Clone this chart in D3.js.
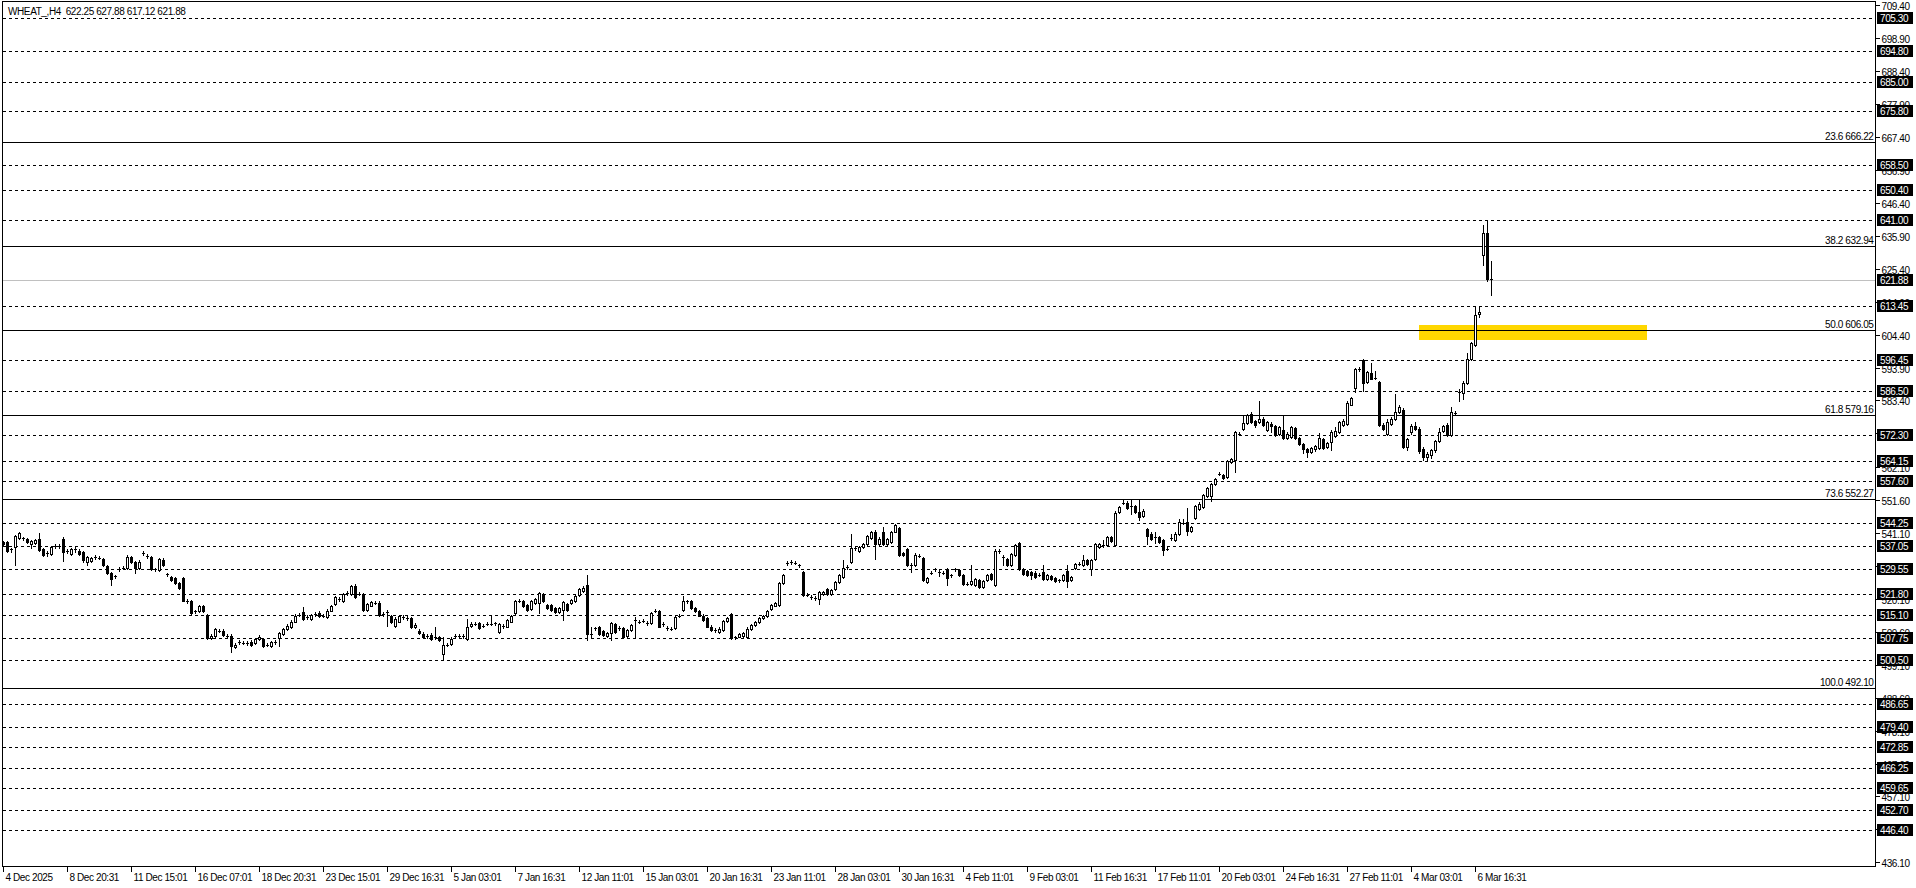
<!DOCTYPE html>
<html>
<head>
<meta charset="utf-8">
<script src="https://cdn.jsdelivr.net/npm/d3@7"></script>
<style>
  body { margin: 0; background: #fff; }
  svg { display: block; font-family: "Liberation Sans", Arial, sans-serif; font-size: 10px; letter-spacing: -0.4px; }
</style>
</head>
<body>
<div id="chart"></div>
<script>
const title = 'WHEAT_,H4  622.25 627.88 617.12 621.88';

// one label every 16 bars, starting at bar 0
const timeLabels = ['4 Dec 2025', '8 Dec 20:31', '11 Dec 15:01', '16 Dec 07:01', '18 Dec 20:31', '23 Dec 15:01',
  '29 Dec 16:31', '5 Jan 03:01', '7 Jan 16:31', '12 Jan 11:01', '15 Jan 03:01', '20 Jan 16:31', '23 Jan 11:01',
  '28 Jan 03:01', '30 Jan 16:31', '4 Feb 11:01', '9 Feb 03:01', '11 Feb 16:31', '17 Feb 11:01', '20 Feb 03:01',
  '24 Feb 16:31', '27 Feb 11:01', '4 Mar 03:01', '6 Mar 16:31'];
const barsPerLabel = 16;

const priceTicks = [709.40, 698.90, 688.40, 677.90, 667.40, 656.90, 646.40, 635.90, 625.40, 614.90, 604.40, 593.90,
  583.40, 572.90, 562.10, 551.60, 541.10, 530.60, 520.10, 509.60, 499.10, 488.60, 478.10, 467.60, 457.10, 446.60, 436.10];

// dashed horizontal levels
const levels = [705.30, 694.80, 685.00, 675.80, 658.50, 650.40, 641.00, 613.45, 596.45, 586.50, 572.30, 564.15,
  557.60, 544.25, 537.05, 529.55, 521.80, 515.10, 507.75, 500.50, 486.65, 479.40, 472.85, 466.25, 459.65, 452.70, 446.40];

// fibonacci retracement
const fibRatios = ['23.6', '38.2', '50.0', '61.8', '73.6', '100.0'];
const fibPrices = [666.22, 632.94, 606.05, 579.16, 552.27, 492.10];

const bidPrice = 621.88;

// yellow zone: bar range and price range
const zoneBars = [353.9, 410.9];
const zonePrices = [602.8, 607.5];

// H4 bars: [open, high, low, close]
const ohlc = [
[538.2,538.6,537.1,537.5],[538.2,538.7,535.0,535.5],[536.1,536.2,535.2,536.0],[536.6,540.5,531.0,540.1],
[539.5,541.4,539.2,541.1],[539.5,540.0,538.8,539.3],[539.1,539.5,537.8,538.2],[537.7,539.0,536.3,538.7],
[537.9,539.2,537.6,538.9],[539.3,541.2,535.5,535.8],[535.9,536.3,533.9,534.2],[534.9,535.4,533.8,534.8],
[534.5,537.0,534.2,536.6],[537.0,537.6,536.4,537.1],[536.9,537.6,536.3,536.8],[539.3,539.8,532.1,535.0],
[535.4,536.1,534.8,535.5],[534.5,536.3,534.1,535.9],[535.8,536.6,535.2,535.9],[535.5,535.9,534.2,534.5],
[535.0,535.3,532.0,532.4],[531.8,533.8,530.8,533.4],[532.1,533.6,531.8,533.2],[533.3,534.0,532.9,533.4],
[533.3,533.8,532.7,533.2],[532.9,533.3,530.7,531.0],[530.5,530.9,528.1,528.4],[528.4,528.8,524.6,526.5],
[527.2,527.8,526.8,527.3],[529.6,530.3,529.1,529.7],[529.9,530.5,529.5,529.9],[529.9,534.0,529.6,533.6],
[533.4,533.8,531.5,531.8],[531.8,532.2,528.4,529.9],[529.9,532.4,529.6,532.0],[534.5,535.3,534.0,534.6],
[533.8,534.4,533.3,533.8],[533.4,533.9,529.2,529.5],[529.5,530.0,529.1,529.5],[529.2,533.3,528.9,532.9],
[532.6,533.0,530.7,531.0],[528.0,528.5,527.5,527.9],[527.0,527.4,525.7,526.0],[526.7,527.0,524.9,525.2],
[525.1,525.5,523.2,523.5],[526.8,527.2,519.3,519.6],[519.4,520.0,518.9,519.4],[519.4,519.8,515.4,515.7],
[516.1,516.7,515.7,516.1],[516.1,518.2,515.8,517.7],[517.7,518.1,515.8,516.1],[515.0,515.4,507.2,507.6],
[507.6,508.8,507.3,508.4],[508.2,510.8,507.9,510.4],[510.0,510.6,509.5,510.0],[510.0,510.4,508.4,508.7],
[508.4,509.0,507.9,508.4],[508.4,508.8,503.3,505.0],[504.7,505.9,504.4,505.5],[506.3,506.9,505.8,506.3],
[506.1,506.7,505.6,506.1],[506.0,506.6,505.5,506.0],[506.5,506.9,505.2,505.5],[506.1,507.6,505.8,507.2],
[507.2,508.5,506.9,507.9],[507.2,507.6,504.7,505.0],[505.5,506.0,505.0,505.5],[505.2,506.7,504.9,506.3],
[506.3,506.9,505.8,506.3],[507.6,509.7,505.2,509.3],[509.0,510.8,508.7,510.4],[510.4,512.0,510.1,511.6],
[511.1,513.3,510.8,512.9],[512.9,515.2,512.6,514.8],[515.0,515.6,514.5,515.0],[515.9,517.5,513.5,513.8],
[514.3,514.9,513.8,514.3],[513.8,515.4,513.5,515.0],[515.2,515.8,514.7,515.2],[515.7,516.1,514.3,514.6],
[514.8,515.4,514.3,514.8],[514.3,516.8,514.0,516.4],[516.4,518.1,516.1,517.7],[518.5,521.1,518.2,520.7],
[520.1,520.7,519.6,520.1],[519.3,522.1,519.0,521.7],[522.0,522.6,521.5,522.0],[521.7,524.6,521.4,524.2],
[524.2,525.0,520.4,520.7],[521.7,522.3,521.2,521.7],[521.7,522.1,516.4,516.7],[516.7,518.9,516.4,518.5],
[518.0,519.5,517.7,519.1],[518.9,519.5,518.4,518.9],[518.9,519.3,514.7,515.0],[515.3,515.9,514.8,515.3],
[515.9,516.6,511.6,515.9],[514.6,515.0,512.4,512.7],[511.6,514.2,511.3,513.8],[512.9,515.0,512.6,514.6],
[514.3,514.9,513.8,514.3],[514.0,514.6,513.5,514.0],[514.0,514.4,510.8,511.1],[511.1,512.3,510.8,511.9],
[510.0,510.4,508.9,509.2],[509.0,509.4,507.6,507.9],[508.2,508.8,507.7,508.2],[508.7,509.1,507.1,507.4],
[507.9,511.1,507.4,507.9],[507.9,508.3,506.8,507.1],[502.6,507.9,501.0,505.5],[505.5,506.1,505.0,505.5],
[505.8,507.8,505.5,507.4],[508.4,509.0,507.9,508.4],[508.2,508.8,507.7,508.2],[508.2,508.8,507.7,508.2],
[507.4,513.8,507.1,511.1],[511.4,512.6,511.1,512.2],[512.2,512.8,511.7,512.2],[512.4,512.8,510.6,510.9],
[511.6,512.2,511.1,511.6],[512.2,512.8,511.7,512.2],[512.2,514.8,511.7,512.2],[512.3,512.9,511.8,512.4],
[509.5,512.5,509.2,512.1],[511.4,512.0,510.9,511.5],[511.3,513.8,511.0,513.4],[512.9,514.9,512.6,514.5],
[515.6,519.7,515.3,519.3],[519.4,520.0,519.0,519.5],[519.3,519.7,517.4,517.7],[518.2,518.6,516.3,516.6],
[517.0,519.7,516.7,519.3],[518.7,520.5,518.4,520.1],[518.7,522.3,515.6,521.9],[521.6,522.0,519.2,519.5],
[518.2,518.6,516.9,517.2],[518.2,518.6,516.3,516.6],[517.2,517.6,515.6,515.9],[515.9,517.6,515.6,517.2],
[516.6,519.5,513.4,519.1],[518.5,518.9,516.3,516.6],[518.7,520.2,518.4,519.8],[519.5,521.3,519.2,520.9],
[521.2,523.7,520.9,523.3],[522.5,524.1,522.2,523.7],[524.6,527.8,507.1,508.9],[508.9,511.3,507.6,508.9],
[510.8,511.3,510.3,510.8],[511.0,511.4,508.6,508.9],[509.9,510.3,508.4,508.7],[508.4,509.6,508.1,509.2],
[509.2,512.8,507.1,512.4],[512.1,512.5,509.2,509.5],[510.8,511.4,510.3,510.8],[510.8,511.2,507.5,507.8],
[508.4,510.6,508.1,510.2],[510.2,512.2,509.9,511.8],[513.4,514.2,507.8,513.4],[512.9,513.5,512.4,512.9],
[513.1,513.7,512.6,513.1],[512.4,513.0,511.9,512.4],[512.4,516.0,512.1,515.6],[516.3,516.9,515.8,516.3],
[516.3,516.7,511.0,511.3],[512.1,512.7,511.6,512.1],[510.8,511.4,510.3,510.8],[510.6,511.2,510.1,510.6],
[510.8,514.6,510.5,514.2],[514.8,515.4,514.3,514.8],[516.6,520.9,516.3,519.5],[519.3,519.9,518.8,519.3],
[519.5,519.9,516.9,517.2],[517.2,517.6,515.8,516.1],[516.1,516.5,514.5,514.8],[514.8,515.2,513.1,513.4],
[514.0,514.4,511.0,511.3],[511.3,511.7,509.9,510.2],[510.2,510.8,509.7,510.2],[509.5,511.0,509.2,510.6],
[510.2,513.5,509.9,513.1],[513.1,514.4,512.8,514.0],[515.2,515.6,507.3,507.6],[507.8,508.4,507.3,507.8],
[508.1,509.3,507.8,508.9],[508.3,509.6,508.0,509.2],[508.1,511.0,507.8,510.6],[510.6,512.2,510.3,511.8],
[511.8,513.0,511.5,512.6],[512.6,514.3,512.3,513.9],[513.9,515.0,513.6,514.6],[514.6,516.6,514.3,516.2],
[517.0,518.6,516.7,518.2],[518.0,519.2,517.7,518.8],[518.2,525.6,517.9,525.2],[525.2,528.0,524.9,527.6],
[531.5,532.2,531.0,531.6],[531.8,532.4,531.3,531.8],[531.6,532.2,531.1,531.6],[531.0,531.4,530.2,530.5],
[528.6,529.0,520.9,521.2],[521.4,522.0,520.9,521.4],[520.7,521.3,520.2,520.7],[520.3,520.9,519.8,520.3],
[520.1,522.7,518.5,522.3],[521.7,522.7,521.4,522.3],[523.3,523.7,521.4,521.7],[521.7,523.4,521.4,523.0],
[523.3,525.8,523.0,525.4],[525.6,528.0,525.3,527.6],[527.0,532.4,526.7,529.9],[530.2,530.8,529.7,530.2],
[532.0,540.9,531.7,536.3],[536.3,536.9,535.8,536.3],[535.5,537.0,535.2,536.6],[536.6,538.1,536.3,537.7],
[537.7,540.5,537.4,540.1],[539.5,541.8,539.2,541.4],[541.6,542.0,532.9,537.7],[537.7,539.7,537.4,539.3],
[541.6,543.0,537.4,537.7],[537.7,539.5,537.4,539.1],[538.2,541.8,537.9,541.4],[541.6,544.1,541.3,543.7],
[542.7,543.1,533.9,534.2],[534.8,535.2,533.9,534.2],[536.1,536.5,530.5,530.8],[531.0,531.6,528.8,531.0],
[530.8,534.6,530.5,534.2],[533.9,534.5,533.4,533.9],[533.1,533.5,525.7,526.0],[525.4,527.1,525.1,526.7],
[528.4,529.0,527.9,528.4],[529.5,530.1,529.0,529.5],[528.8,529.4,527.3,528.8],[528.4,529.0,527.9,528.4],
[529.7,530.1,524.4,526.7],[527.6,528.2,527.1,527.6],[529.5,530.1,529.0,529.5],[529.2,529.6,527.3,527.6],
[527.6,528.0,524.6,524.9],[524.9,525.5,524.4,524.9],[524.9,531.0,524.6,525.7],[524.6,526.9,524.3,526.5],
[526.0,526.4,523.6,523.9],[523.9,526.1,523.6,525.7],[526.0,528.2,525.7,527.8],[528.1,528.5,526.0,526.3],
[524.4,535.9,524.1,535.5],[535.4,536.0,534.9,535.4],[533.5,534.1,530.8,533.5],[532.9,533.3,530.7,531.0],
[531.0,534.9,530.7,534.5],[534.0,537.6,533.7,537.2],[538.0,538.4,529.2,529.5],[529.7,530.1,527.8,528.1],
[528.9,529.3,527.3,527.6],[528.7,529.1,526.5,527.6],[528.5,528.9,526.8,527.1],[527.8,528.4,527.3,527.8],
[528.7,530.8,526.2,526.5],[526.5,528.0,526.2,527.6],[527.4,527.8,526.2,526.5],[526.8,527.2,525.4,525.7],
[526.0,526.6,525.5,526.0],[526.0,528.2,525.7,527.8],[528.9,530.8,523.9,525.7],[526.0,527.5,525.7,527.1],
[530.0,531.5,529.7,531.1],[531.3,531.9,530.8,531.3],[530.8,534.2,530.5,532.4],[532.4,532.8,530.8,531.1],
[529.7,532.8,527.6,532.4],[532.7,538.1,532.4,537.7],[536.6,537.9,536.3,537.5],[537.2,538.8,536.7,537.2],
[537.2,540.2,536.9,539.8],[539.8,540.2,538.2,538.5],[537.2,548.0,536.9,547.6],[547.8,549.8,547.5,549.4],
[550.8,552.1,550.3,550.8],[550.8,551.2,548.8,549.1],[549.9,552.1,547.3,549.4],[549.7,550.1,547.5,547.8],
[547.8,552.1,545.2,546.2],[546.5,548.7,546.2,548.3],[542.3,542.7,537.7,540.2],[540.9,541.3,539.0,539.3],
[539.8,541.4,538.0,539.8],[539.8,540.2,537.9,538.2],[538.8,539.2,534.2,535.6],[536.1,536.7,535.6,536.1],
[539.5,540.9,538.8,539.5],[538.8,541.3,538.5,540.9],[540.9,545.5,540.6,544.6],[544.4,545.7,543.9,544.4],
[544.6,549.1,540.4,541.9],[541.9,543.4,541.6,543.0],[545.9,550.1,545.6,549.7],[548.9,550.9,548.6,550.5],
[549.4,553.5,549.1,553.1],[552.9,555.9,552.6,555.5],[552.9,557.2,551.2,556.8],[556.8,558.8,556.5,558.4],
[560.0,560.6,559.5,560.0],[559.7,560.1,558.4,558.7],[559.0,564.4,558.7,564.0],[563.8,565.0,563.5,564.6],
[564.3,573.7,560.6,573.3],[572.8,573.4,572.3,572.8],[574.4,578.4,574.1,576.3],[576.2,579.1,575.9,578.7],
[579.2,579.6,576.1,576.4],[576.8,577.2,575.0,575.7],[576.4,583.2,576.1,577.4],[577.6,578.0,575.4,575.7],
[573.9,576.8,573.6,576.4],[576.0,576.4,573.4,575.3],[575.3,575.7,572.2,572.5],[572.8,575.4,572.5,575.0],
[573.9,578.5,571.2,571.5],[571.5,573.2,571.2,572.8],[571.8,575.4,571.5,575.0],[574.7,575.1,571.0,571.3],
[571.3,571.7,569.2,569.5],[569.5,569.9,566.5,568.0],[568.0,568.4,565.5,567.0],[567.0,568.6,566.6,568.2],
[567.8,569.2,567.4,568.8],[568.2,573.0,567.9,571.4],[571.1,571.5,567.9,568.2],[568.5,570.2,568.2,569.8],
[570.2,573.9,567.6,573.5],[572.1,574.9,571.8,573.6],[573.2,576.8,572.9,576.4],[575.7,577.6,575.4,576.8],
[576.0,583.1,575.7,582.7],[582.1,584.6,581.8,584.2],[587.4,593.8,586.1,593.4],[593.4,594.0,592.9,593.4],
[596.2,596.6,586.3,589.1],[589.3,592.9,589.0,592.5],[592.3,595.5,590.1,590.4],[590.6,592.7,590.1,590.6],
[589.3,589.7,575.4,575.7],[575.7,576.1,574.1,574.4],[572.8,577.4,572.5,576.4],[576.0,578.0,575.7,577.6],
[577.6,585.6,577.3,579.8],[579.8,581.8,579.5,581.4],[580.5,580.9,568.4,568.7],[568.7,571.5,567.5,571.0],
[573.5,575.8,572.8,575.3],[575.3,576.6,573.9,574.2],[574.4,574.8,566.8,567.3],[567.8,568.6,564.5,565.5],
[565.5,567.0,564.2,566.2],[566.0,568.0,565.2,567.6],[567.6,570.8,567.0,570.5],[570.5,574.7,570.0,573.2],
[573.6,575.7,573.3,575.3],[575.7,576.1,572.2,572.5],[572.3,581.4,572.0,579.8],[579.5,580.1,579.0,579.5],
[586.1,587.0,583.2,586.1],[585.9,589.5,583.8,589.1],[589.1,598.4,588.8,596.6],[596.6,602.0,596.3,601.6],
[601.0,613.2,600.7,610.8],[611.1,613.6,610.1,611.5],[629.9,639.5,626.5,636.9],[636.9,640.9,621.5,622.0],
[622.25,627.88,617.12,621.88]
];

const W = 1916, H = 888;
const frame = { l: 2.5, t: 1.5, r: 1875.5, b: 866.5 };

const svg = d3.select('#chart').append('svg')
  .attr('width', W).attr('height', H)
  .attr('shape-rendering', 'crispEdges');

const x = d3.scaleLinear().domain([0, 1]).range([3, 7]);   // 4 px per bar
const y = d3.scaleLinear().domain([446.40, 705.30]).range([830, 18.3]);
const py = p => Math.round(y(p)) + 0.5;
const bx = i => Math.round(x(i)) + 0.5;

svg.append('clipPath').attr('id', 'plot')
  .append('rect').attr('x', frame.l).attr('y', frame.t)
  .attr('width', frame.r - frame.l).attr('height', frame.b - frame.t);

const g = svg.append('g').attr('clip-path', 'url(#plot)');

// yellow zone
g.append('rect')
  .attr('x', x(zoneBars[0])).attr('width', x(zoneBars[1]) - x(zoneBars[0]))
  .attr('y', y(zonePrices[1])).attr('height', y(zonePrices[0]) - y(zonePrices[1]))
  .attr('fill', '#ffd700');

// bid line
g.append('line')
  .attr('x1', frame.l).attr('x2', frame.r)
  .attr('y1', py(bidPrice)).attr('y2', py(bidPrice))
  .attr('stroke', '#c0c0c0');

// dashed levels
g.selectAll('line.lvl').data(levels).join('line')
  .attr('class', 'lvl')
  .attr('x1', frame.l).attr('x2', frame.r)
  .attr('y1', d => py(d)).attr('y2', d => py(d))
  .attr('stroke', '#000').attr('stroke-dasharray', '3,3');

// fibonacci lines
g.selectAll('line.fib').data(fibPrices).join('line')
  .attr('class', 'fib')
  .attr('x1', frame.l).attr('x2', frame.r)
  .attr('y1', d => py(d) + 1).attr('y2', d => py(d) + 1)
  .attr('stroke', '#000');

g.selectAll('text.fib').data(fibPrices).join('text')
  .attr('class', 'fib')
  .attr('x', frame.r - 2).attr('y', d => py(d) - 2)
  .attr('text-anchor', 'end').attr('fill', '#000')
  .text((d, i) => `${fibRatios[i]} ${d.toFixed(2)}`);

// candles
const bars = g.selectAll('g.bar').data(ohlc).join('g').attr('class', 'bar');

bars.append('line')
  .attr('x1', (d, i) => bx(i)).attr('x2', (d, i) => bx(i))
  .attr('y1', d => Math.round(y(d[1]))).attr('y2', d => Math.round(y(d[2])) + 1)
  .attr('stroke', '#000');

bars.each(function (d, i) {
  const [o, , , c] = d;
  const top = Math.round(y(Math.max(o, c)));
  const bot = Math.round(y(Math.min(o, c)));
  const sel = d3.select(this);
  const cx = Math.round(x(i));
  if (bot - top < 2) {
    sel.append('rect').attr('x', cx - 1).attr('y', top).attr('width', 3).attr('height', Math.max(1, bot - top))
      .attr('fill', '#000');
  } else if (c >= o) {
    sel.append('rect').attr('x', cx - 0.5).attr('y', top + 0.5).attr('width', 2).attr('height', bot - top)
      .attr('fill', '#fff').attr('stroke', '#000');
  } else {
    sel.append('rect').attr('x', cx - 1).attr('y', top).attr('width', 3).attr('height', bot - top + 1)
      .attr('fill', '#000');
  }
});

// frame
svg.append('rect')
  .attr('x', frame.l).attr('y', frame.t)
  .attr('width', frame.r - frame.l).attr('height', frame.b - frame.t)
  .attr('fill', 'none').attr('stroke', '#000');

// price scale
const ax = svg.append('g');
ax.selectAll('line.tick').data(priceTicks).join('line')
  .attr('class', 'tick')
  .attr('x1', frame.r).attr('x2', frame.r + 4)
  .attr('y1', d => py(d)).attr('y2', d => py(d))
  .attr('stroke', '#000');
ax.selectAll('text.tick').data(priceTicks).join('text')
  .attr('class', 'tick')
  .attr('x', frame.r + 6).attr('y', d => py(d) + 4)
  .attr('fill', '#000')
  .text(d => d.toFixed(2));

// boxed level prices
const boxed = levels.concat([bidPrice]);
ax.selectAll('rect.box').data(boxed).join('rect')
  .attr('class', 'box')
  .attr('x', 1877).attr('width', 36)
  .attr('y', d => Math.round(y(d)) - 6).attr('height', 12)
  .attr('fill', '#000');
ax.selectAll('text.box').data(boxed).join('text')
  .attr('class', 'box')
  .attr('x', 1880).attr('y', d => Math.round(y(d)) + 4)
  .attr('fill', '#fff')
  .text(d => d.toFixed(2));

// time scale
const tg = svg.append('g');
tg.selectAll('line').data(timeLabels).join('line')
  .attr('x1', (d, i) => bx(i * barsPerLabel)).attr('x2', (d, i) => bx(i * barsPerLabel))
  .attr('y1', frame.b).attr('y2', frame.b + 5)
  .attr('stroke', '#000');
tg.selectAll('text').data(timeLabels).join('text')
  .attr('x', (d, i) => bx(i * barsPerLabel) + 2).attr('y', 881)
  .attr('fill', '#000')
  .text(d => d);

// title
svg.append('text')
  .attr('x', 8).attr('y', 15)
  .style('white-space', 'pre')
  .attr('fill', '#000')
  .text(title);
</script>
</body>
</html>
